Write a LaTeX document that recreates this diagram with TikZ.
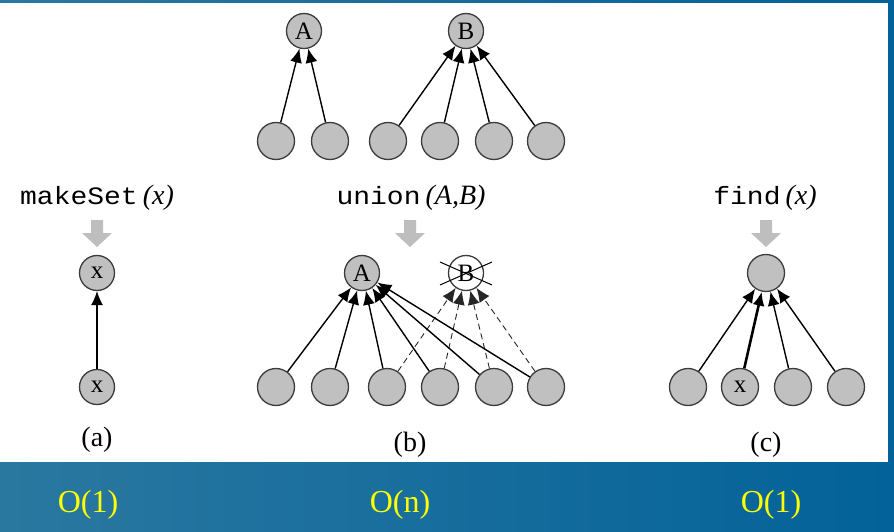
\documentclass[tikz,border=0pt]{standalone}
\usepackage{fontspec}
\setmainfont{Liberation Serif}
\newfontfamily\codefont[FakeStretch=1.12]{Liberation Mono}
\usetikzlibrary{arrows.meta,calc}

\definecolor{bgleft}{RGB}{42,120,160}
\definecolor{bgmid}{RGB}{20,92,136}
\definecolor{bgright}{RGB}{3,98,153}
\definecolor{nodefill}{RGB}{192,192,192}
\definecolor{nodeedge}{RGB}{60,60,60}
\definecolor{opgray}{RGB}{190,190,190}
\definecolor{costyellow}{RGB}{255,255,0}

\newcommand{\opcall}[2]{{\codefont\fontsize{25}{28}\selectfont #1}\hspace{5pt}{\fontsize{28}{30}\selectfont\itshape #2}}

\tikzset{
  setnode/.style={circle, draw=nodeedge, line width=1.3pt, fill=nodefill,
    minimum size=37pt, inner sep=0pt, font=\fontsize{25}{26}\selectfont},
  rootnode/.style={setnode, minimum size=35pt},
  link/.style={line width=1.4pt, -{Latex[length=14pt,width=12pt]}},
  strong link/.style={link, line width=2.6pt},
  old link/.style={line width=0.9pt, draw=black!85, dash pattern=on 6pt off 4pt,
    -{Latex[length=14pt,width=12pt]}},
  oplabel/.style={anchor=base, inner sep=0pt},
  caption/.style={anchor=base, inner sep=0pt, font=\fontsize{28}{30}\selectfont},
  cost/.style={anchor=base, inner sep=0pt, text=costyellow, font=\fontsize{32}{36}\selectfont},
  blockarrow/.style={fill=opgray, draw=none}
}

\begin{document}
\begin{tikzpicture}[x=1pt,y=-1pt]
\useasboundingbox (0,0) rectangle (894,532);

% backdrop and white panel
\shade[left color=bgleft, middle color=bgmid, right color=bgright] (0,0) rectangle (894,532);
\fill[white] (0,3) rectangle (888,462);

% ---- two separate trees
\node[rootnode] (tA) at (304,31) {A};
\node[rootnode] (tB) at (466,31) {B};
\node[setnode] (a1) at (276,141) {};
\node[setnode] (a2) at (330,141) {};
\node[setnode] (b1) at (388,141) {};
\node[setnode] (b2) at (440,141) {};
\node[setnode] (b3) at (494,141) {};
\node[setnode] (b4) at (546,141) {};
\foreach \c in {a1,a2} \draw[link] (\c) -- (tA);
\foreach \c in {b1,b2,b3,b4} \draw[link] (\c) -- (tB);

% ---- operation names
\node[oplabel] (opMake) at (97,204) {\opcall{makeSet}{(x)}};
\node[oplabel] (opUnion) at (411,204) {\opcall{union}{(A,B)}};
\node[oplabel] (opFind) at (765,204) {\opcall{find}{(x)}};

% block arrows under the operation names
\foreach \cx in {97,410,766}
  \fill[blockarrow] (\cx-6,220) -- (\cx+6,220) -- (\cx+6,233) -- (\cx+15,233)
    -- (\cx,247) -- (\cx-15,233) -- (\cx-6,233) -- cycle;

% ---- (a) makeSet
\node[rootnode] (mTop) at (97,273) {x};
\node[rootnode] (mBot) at (97,387) {x};
\draw[link] (mBot) -- (mTop);
\node[caption] (capA) at (97,446) {(a)};

% ---- (b) union
\node[rootnode] (uA) at (362,273) {A};
\node[rootnode, fill=white] (uB) at (466,273) {B};
\draw[line width=1pt] ($(uB)+(-26,-11)$) -- ($(uB)+(26,12)$);
\draw[line width=1pt] ($(uB)+(-26,12)$) -- ($(uB)+(26,-11)$);
\node[setnode] (u1) at (276,387) {};
\node[setnode] (u2) at (330,387) {};
\node[setnode] (u3) at (387,387) {};
\node[setnode] (u4) at (440,387) {};
\node[setnode] (u5) at (494,387) {};
\node[setnode] (u6) at (546,387) {};
\foreach \c in {u3,u4,u5,u6} \draw[old link] (\c) -- (uB);
\foreach \c in {u1,u2,u3,u4,u5,u6} \draw[link] (\c) -- (uA);
\node[caption] (capB) at (410,451) {(b)};

% ---- (c) find
\node[setnode] (fRoot) at (766,273) {};
\node[setnode] (f1) at (688,387) {};
\node[setnode] (f2) at (740,387) {x};
\node[setnode] (f3) at (793,387) {};
\node[setnode] (f4) at (846,387) {};
\draw[link] (f1) -- (fRoot);
\draw[strong link] (f2) -- (fRoot);
\draw[link] (f3) -- (fRoot);
\draw[link] (f4) -- (fRoot);
\node[caption] (capC) at (766,451) {(c)};

% ---- costs
\node[cost] (costA) at (88,512) {O(1)};
\node[cost] (costB) at (400,512) {O(n)};
\node[cost] (costC) at (771,512) {O(1)};
\end{tikzpicture}
\end{document}
